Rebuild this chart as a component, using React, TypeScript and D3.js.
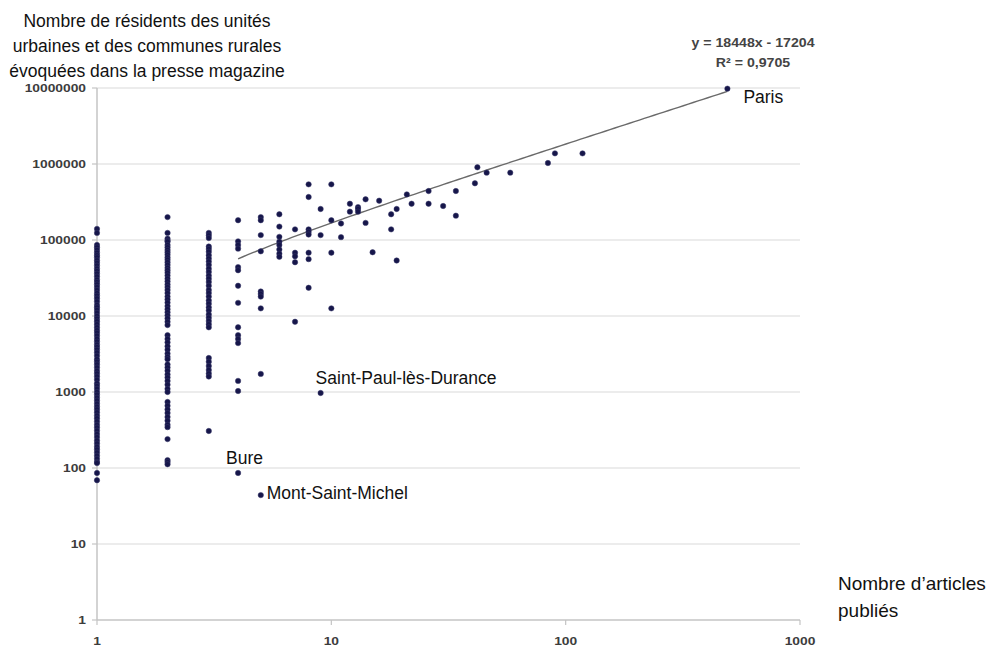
import React from "react";
import * as d3 from "d3";

// ---- Data ----
// Residents for places cited in 1, 2 and 3 articles (dense columns)
const residentsAt1 = [
  140000, 124000, 86000, 80000, 74000, 68000, 63000, 59000, 54000, 50000, 46000, 42000,
  39000, 36000, 33000, 30000, 28000, 26000, 24000, 22000, 20000, 18500, 17000, 15500,
  14000, 13000, 12000, 11000, 10000, 9200, 8500, 7800, 7100, 6500, 6000, 5500, 5000,
  4600, 4200, 3900, 3600, 3300, 3000, 2700, 2500, 2300, 2100, 1900, 1750, 1600, 1450,
  1300, 1200, 1100, 1000, 920, 840, 770, 700, 640, 590, 540, 490, 450, 410, 370, 340,
  310, 280, 255, 230, 210, 190, 175, 160, 145, 132, 120, 116, 86, 69,
];
const residentsAt2 = [
  200000, 124000, 104000, 98000, 95000, 86000, 80000, 74000, 69000, 64000, 59000, 55000,
  51000, 47000, 43000, 40000, 37000, 34000, 31000, 28500, 26000, 24000, 22000, 20000,
  18000, 16500, 15000, 13500, 12300, 11200, 10200, 9300, 8400, 7600, 5600, 5000, 4500,
  4000, 3600, 3200, 2900, 2700, 2300, 2100, 1900, 1700, 1550, 1400, 1250, 1100, 1000,
  740, 660, 590, 530, 470, 420, 370, 345, 240, 127, 120, 112,
];
const residentsAt3 = [
  124000, 115000, 106000, 82000, 76000, 70000, 63000, 57000, 52000, 47000, 42000, 38000,
  34000, 31000, 28000, 25000, 22000, 20000, 18000, 16000, 14500, 13000, 11800, 10500,
  9500, 8600, 7800, 7100, 2800, 2500, 2200, 1950, 1750, 1600, 307,
];
// Places cited in 4 or more articles: paired arrays
const articlesOther = [
  4, 4, 4, 4, 4, 4, 4, 4, 4, 4, 4, 4, 4, 4,
  5, 5, 5, 5, 5, 5, 5, 5, 5,
  6, 6, 6, 6, 6, 6, 6, 6,
  7, 7, 7, 7, 7,
  8, 8, 8, 8, 8, 8, 8, 8,
  9, 9,
  10, 10, 10, 10,
  11, 11, 12, 12, 13, 13, 13, 14, 14, 15, 16, 18, 18, 19, 19, 21, 22, 26, 26, 30,
  34, 34, 41, 42, 46, 58, 84, 90, 118,
];
const residentsOther = [
  182000, 96000, 86000, 77000, 44000, 40000, 25000, 14900, 7100, 5600, 5000, 4400, 1400, 1030,
  200000, 182000, 116000, 71000, 21000, 19500, 18000, 12600, 1730,
  218000, 150000, 110000, 95000, 86000, 75000, 66000, 60000,
  138000, 68000, 61000, 51000, 8400,
  540000, 368000, 138000, 128000, 118000, 68000, 56000, 23500,
  256000, 116000,
  540000, 182000, 68000, 12600,
  165000, 109000, 300000, 236000, 271000, 256000, 236000, 343000, 168000, 69000, 329000,
  218000, 138000, 256000, 53700, 398000, 300000, 441000, 300000, 280000,
  441000, 209000, 557000, 905000, 769000, 769000, 1030000, 1380000, 1380000,
];
// Named places
const namedPlaces = ["Paris", "Saint-Paul-lès-Durance", "Bure", "Mont-Saint-Michel"];
const namedArticles = [490, 9, 4, 5];
const namedResidents = [9800000, 970, 86, 44];

// Axis ticks
const xTicks = [1, 10, 100, 1000];
const yTicks = [1, 10, 100, 1000, 10000, 100000, 1000000, 10000000];

// Trend line (from the chart's own equation)
const trendSlope = 18448;
const trendIntercept = -17204;
const trendFrom = 4;
const trendTo = 490;

const yTitle = [
  "Nombre de résidents des unités",
  "urbaines et des communes rurales",
  "évoquées dans la presse magazine",
];
const xTitle = ["Nombre d’articles", "publiés"];
const equation = ["y = 18448x - 17204", "R² = 0,9705"];

export default function App() {
  const W = 992;
  const H = 648;
  const x = d3.scaleLog().domain([1, 1000]).range([97, 800]);
  const y = d3.scaleLog().domain([1, 1e7]).range([620, 88]);

  const points: { a: number; r: number }[] = [];
  residentsAt1.forEach((r) => points.push({ a: 1, r }));
  residentsAt2.forEach((r) => points.push({ a: 2, r }));
  residentsAt3.forEach((r) => points.push({ a: 3, r }));
  articlesOther.forEach((a, i) => points.push({ a, r: residentsOther[i] }));
  namedArticles.forEach((a, i) => points.push({ a, r: namedResidents[i] }));

  const trendXs = d3
    .range(0, 101)
    .map((i) => trendFrom * Math.pow(trendTo / trendFrom, i / 100));
  const trendPath = d3
    .line<number>()
    .x((d) => x(d))
    .y((d) => y(trendSlope * d + trendIntercept))(trendXs);

  const font = "'Liberation Sans', Arial, sans-serif";
  const [x0, x1] = x.range();
  const [y0, y1] = y.range();

  const labelOffsets: Record<string, [number, number]> = {
    Paris: [16, 8],
    "Saint-Paul-lès-Durance": [-5, -15],
    Bure: [-12, -15],
    "Mont-Saint-Michel": [6, -2],
  };

  return (
    <svg
      width={W}
      height={H}
      style={{ position: "absolute", left: 0, top: 0, background: "#fff" }}
      fontFamily={font}
    >
      {/* gridlines */}
      {yTicks.slice(1).map((t) => (
        <line key={"g" + t} x1={x0} x2={x1} y1={y(t)} y2={y(t)} stroke="#e6e6e6" strokeWidth={1.5} />
      ))}
      {/* axes */}
      <line x1={x0} x2={x0} y1={y1} y2={y0} stroke="#c4c4c4" strokeWidth={1.5} />
      <line x1={x0} x2={x1} y1={y0} y2={y0} stroke="#c4c4c4" strokeWidth={1.5} />
      {yTicks.map((t) => (
        <line key={"yt" + t} x1={x0 - 5} x2={x0} y1={y(t)} y2={y(t)} stroke="#c4c4c4" strokeWidth={1.2} />
      ))}
      {xTicks.map((t) => (
        <line key={"xt" + t} x1={x(t)} x2={x(t)} y1={y0} y2={y0 + 5} stroke="#c4c4c4" strokeWidth={1.2} />
      ))}
      {/* tick labels */}
      {yTicks.map((t) => (
        <g key={"yl" + t} transform={`translate(86,${y(t)}) scale(1.2,1)`}>
          <text textAnchor="end" dominantBaseline="central" fontSize={11.5} fontWeight={700} fill="#3c3c3c">
            {String(t)}
          </text>
        </g>
      ))}
      {xTicks.map((t) => (
        <g key={"xl" + t} transform={`translate(${x(t)},641) scale(1.2,1)`}>
          <text textAnchor="middle" dominantBaseline="central" fontSize={11.5} fontWeight={700} fill="#3c3c3c">
            {String(t)}
          </text>
        </g>
      ))}
      {/* trend line */}
      <path d={trendPath || ""} fill="none" stroke="#6a6a6a" strokeWidth={1.4} />
      {/* points */}
      {points.map((p, i) => (
        <circle key={i} cx={x(p.a)} cy={y(p.r)} r={2.7} fill="#16164a" stroke="#3a3a6a" strokeWidth={0.5} />
      ))}
      {/* named labels */}
      {namedPlaces.map((n, i) => {
        const [dx, dy] = labelOffsets[n];
        return (
          <text
            key={n}
            x={x(namedArticles[i]) + dx}
            y={y(namedResidents[i]) + dy}
            dominantBaseline="central"
            fontSize={17.5}
            fill="#111"
          >
            {n}
          </text>
        );
      })}
      {/* equation */}
      {equation.map((s, i) => (
        <g key={s} transform={`translate(753,${43 + i * 20}) scale(1.18,1)`}>
          <text textAnchor="middle" dominantBaseline="central" fontSize={12} fontWeight={600} fill="#444">
            {s}
          </text>
        </g>
      ))}
      {/* axis titles */}
      {yTitle.map((s, i) => (
        <text key={s} x={147} y={21 + i * 25} textAnchor="middle" dominantBaseline="central" fontSize={17.5} fill="#111">
          {s}
        </text>
      ))}
      {xTitle.map((s, i) => (
        <text key={s} x={838} y={583 + i * 27} dominantBaseline="central" fontSize={19} fill="#111">
          {s}
        </text>
      ))}
    </svg>
  );
}
